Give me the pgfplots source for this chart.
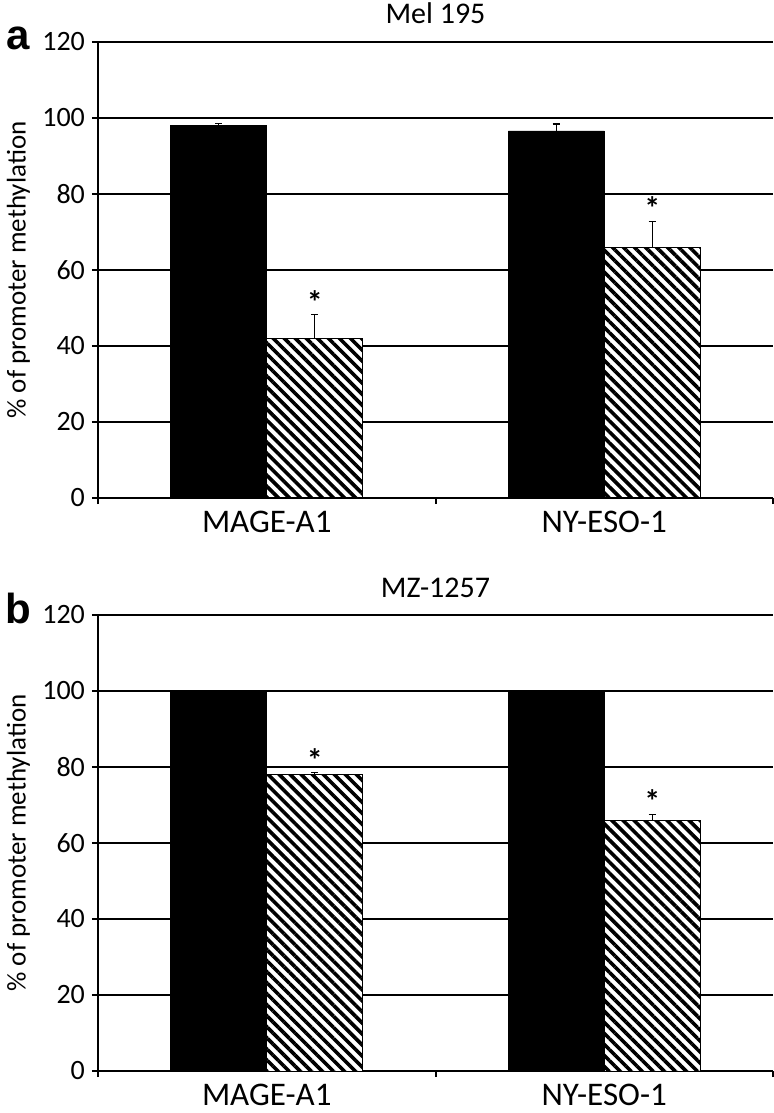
\documentclass[border=0pt]{standalone}
\usepackage{fontspec}
\setmainfont{Carlito}
\newfontfamily\panelfont{Liberation Sans}
\usepackage{pgfplots}
\pgfplotsset{compat=1.18}
\usetikzlibrary{patterns.meta}

\pgfplotsset{
  panel/.style={
    scale only axis, width=337.5pt, height=228pt,
    /pgf/number format/assume math mode=true,
    ymin=0, ymax=120, ytick={0,20,...,120},
    xmin=-0.5, xmax=1.5,
    xtick={-0.5,0.5,1.5}, xticklabels={,,},
    extra x ticks={0,1}, extra x tick labels={MAGE-A1,NY-ESO-1},
    extra x tick style={major tick length=0pt, xticklabel style={yshift=-3pt}},
    axis x line*=bottom, axis y line*=left,
    ymajorgrids, major grid style={black, line width=1.3pt},
    axis line style={black, line width=1.3pt},
    tick style={black, line width=1pt},
    tick align=outside, major tick length=3pt,
    ybar, bar width=48pt,
    yticklabel style={font=\fontsize{14}{14}\selectfont},
    xticklabel style={font=\fontsize{16.5}{16.5}\selectfont},
    ylabel={\% of promoter methylation},
    ylabel style={font=\fontsize{13.5}{13.5}\selectfont, at={(axis description cs:-0.118,0.5)}, anchor=center},
    title style={font=\fontsize{15}{15}\selectfont, at={(axis description cs:0.5,1)}, anchor=base, yshift=3pt},
    error bars/error bar style={black, line width=0.6pt},
    error bars/error mark options={black, rotate=90, mark size=1.8pt, line width=0.6pt},
  },
  blackbar/.style={fill=black, draw=black, line width=0.3pt, bar shift=-24pt,
    error bars/.cd, y dir=plus, y explicit},
  hatchbar/.style={fill=white, draw=black, line width=0.5pt, bar shift=24pt,
    postaction={pattern={Lines[angle=-45,distance=3.9pt,line width=1.8pt]}},
    error bars/.cd, y dir=plus, y explicit},
  starbar/.style={draw=none, fill=none, bar shift=24pt,
    nodes near coords={*},
    every node near coord/.append style={font=\fontsize{16}{16}\selectfont\bfseries, anchor=south, inner sep=0.5pt}},
}

\begin{document}
\begin{tikzpicture}
\useasboundingbox (-49pt,-307.5pt) rectangle (338pt,249pt);

% Panel a
\begin{axis}[panel, at={(0,0)}, anchor=south west, title={Mel 195}]
\addplot[blackbar] coordinates {(0,98.1) +- (0,0.4) (1,96.6) +- (0,1.8)};
\addplot[hatchbar] coordinates {(0,41.9) +- (0,6.4) (1,66.0) +- (0,6.8)};
\addplot[starbar] coordinates {(0,48.3) (1,72.8)};
\end{axis}
\node[anchor=base, font=\panelfont\bfseries\fontsize{21}{21}\selectfont] at (-40pt,224pt) {a};

% Panel b
\begin{axis}[panel, at={(0,-286.5pt)}, anchor=south west, title={MZ-1257}]
\addplot[blackbar] coordinates {(0,100) +- (0,0) (1,100) +- (0,0)};
\addplot[hatchbar] coordinates {(0,77.9) +- (0,0.6) (1,65.8) +- (0,1.8)};
\addplot[starbar] coordinates {(0,78.5) (1,67.6)};
\end{axis}
\node[anchor=base, font=\panelfont\bfseries\fontsize{21}{21}\selectfont] at (-40pt,-62.5pt) {b};
\end{tikzpicture}
\end{document}
